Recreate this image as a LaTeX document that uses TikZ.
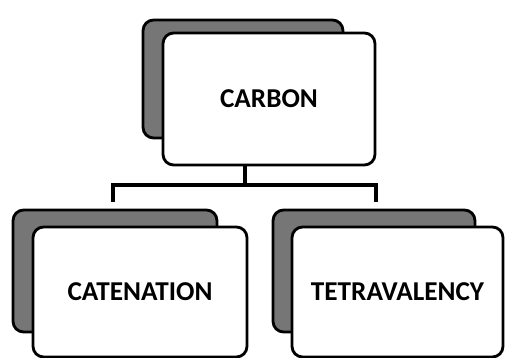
\documentclass[tikz,border=0pt]{standalone}
\usepackage{fontspec}
\setmainfont{Carlito}
\usepackage{tikz}
\usetikzlibrary{positioning, calc}
\definecolor{cardshade}{RGB}{118,118,118}

\begin{document}
\begin{tikzpicture}[
    x=0.02cm, y=-0.02cm,
    card/.style={draw, line width=1.6pt, fill=white, rounded corners=6pt, font=\fontsize{15.5}{18}\selectfont\bfseries, align=center},
    backcard/.style={draw, line width=1.6pt, fill=cardshade, rounded corners=6pt},
    link/.style={line width=2pt}
]
    \useasboundingbox (0,0) rectangle (505,358);

    % Back cards
    \node[backcard, minimum width=4cm, minimum height=2.36cm] (carbonback) at (243,79) {};
    \node[backcard, minimum width=4.08cm, minimum height=2.44cm] (catback) at (115,271) {};
    \node[backcard, minimum width=4.04cm, minimum height=2.44cm] (tetraback) at (374,271) {};

    % Front cards
    \node[card, minimum width=4.24cm, minimum height=2.64cm] (carbon) at (269,99) {CARBON};
    \node[card, minimum width=4.28cm, minimum height=2.6cm] (catenation) at (140,292) {CATENATION};
    \node[card, minimum width=4.22cm, minimum height=2.6cm] (tetra) at (397.5,292) {TETRAVALENCY};

    % Connections
    \coordinate (stem) at (245,185);
    \coordinate (dropL) at (113,202);
    \coordinate (dropR) at (376,202);
    \draw[link] (carbon.south -| stem) -- (stem);
    \draw[link] (dropL) -- (dropL |- stem) -- (dropR |- stem) -- (dropR);
\end{tikzpicture}
\end{document}
